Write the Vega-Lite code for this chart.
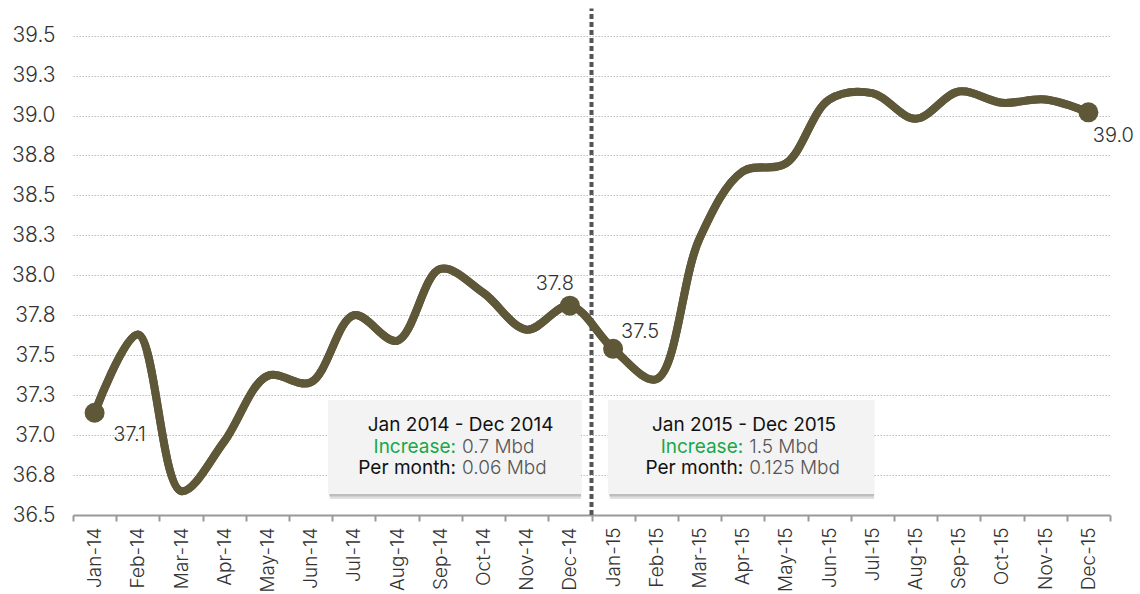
{
  "$schema": "https://vega.github.io/schema/vega-lite/v6.json",
  "width": 1037,
  "height": 515,
  "autosize": {"type": "none"},
  "padding": {"left": 73, "top": 0, "right": 30, "bottom": 79},
  "background": "white",
  "config": {
    "view": {"stroke": null},
    "font": "Inter"
  },
  "datasets": {
    "months": [
      {"m": "Jan-14", "i": 0.5, "v": 37.14},
      {"m": "Feb-14", "i": 1.5, "v": 37.63},
      {"m": "Mar-14", "i": 2.5, "v": 36.65},
      {"m": "Apr-14", "i": 3.5, "v": 36.96},
      {"m": "May-14", "i": 4.5, "v": 37.37},
      {"m": "Jun-14", "i": 5.5, "v": 37.33},
      {"m": "Jul-14", "i": 6.5, "v": 37.75},
      {"m": "Aug-14", "i": 7.5, "v": 37.59},
      {"m": "Sep-14", "i": 8.5, "v": 38.04},
      {"m": "Oct-14", "i": 9.5, "v": 37.89},
      {"m": "Nov-14", "i": 10.5, "v": 37.66},
      {"m": "Dec-14", "i": 11.5, "v": 37.81},
      {"m": "Jan-15", "i": 12.5, "v": 37.54},
      {"m": "Feb-15", "i": 13.5, "v": 37.35},
      {"m": "Mar-15", "i": 14.5, "v": 38.23},
      {"m": "Apr-15", "i": 15.5, "v": 38.65},
      {"m": "May-15", "i": 16.5, "v": 38.7},
      {"m": "Jun-15", "i": 17.5, "v": 39.1},
      {"m": "Jul-15", "i": 18.5, "v": 39.14},
      {"m": "Aug-15", "i": 19.5, "v": 38.98},
      {"m": "Sep-15", "i": 20.5, "v": 39.15},
      {"m": "Oct-15", "i": 21.5, "v": 39.08},
      {"m": "Nov-15", "i": 22.5, "v": 39.1},
      {"m": "Dec-15", "i": 23.5, "v": 39.02}
    ],
    "boxes": [
      {"x0": 5.9, "x1": 11.76, "y0": 36.631, "y1": 37.22},
      {"x0": 12.38, "x1": 18.54, "y0": 36.631, "y1": 37.22}
    ],
    "titles": [
      {"x": 8.97, "y": 37.063, "t": "Jan 2014 - Dec 2014"},
      {"x": 15.53, "y": 37.063, "t": "Jan 2015 - Dec 2015"}
    ],
    "notes": [
      {"x": 8.935, "y": 36.926, "kind": "inc", "label": "Increase:", "val": "0.7 Mbd"},
      {"x": 15.58, "y": 36.926, "kind": "inc", "label": "Increase:", "val": "1.5 Mbd"},
      {"x": 8.935, "y": 36.794, "kind": "pm", "label": "Per month:", "val": "0.06 Mbd"},
      {"x": 15.58, "y": 36.794, "kind": "pm", "label": "Per month:", "val": "0.125 Mbd"}
    ],
    "divider": [{"x": 12, "y0": 36.5, "y1": 39.67}]
  },
  "layer": [
    {
      "data": {"name": "months"},
      "mark": {"type": "line", "interpolate": "catmull-rom", "color": "#5E5838", "strokeWidth": 8, "strokeCap": "round", "strokeJoin": "round"},
      "encoding": {
        "x": {
          "field": "i",
          "type": "quantitative",
          "scale": {"domain": [0, 24], "nice": false, "zero": false},
          "axis": {
            "orient": "bottom",
            "values": [0.5, 1.5, 2.5, 3.5, 4.5, 5.5, 6.5, 7.5, 8.5, 9.5, 10.5, 11.5, 12.5, 13.5, 14.5, 15.5, 16.5, 17.5, 18.5, 19.5, 20.5, 21.5, 22.5, 23.5],
            "labelExpr": "['Jan-14','Feb-14','Mar-14','Apr-14','May-14','Jun-14','Jul-14','Aug-14','Sep-14','Oct-14','Nov-14','Dec-14','Jan-15','Feb-15','Mar-15','Apr-15','May-15','Jun-15','Jul-15','Aug-15','Sep-15','Oct-15','Nov-15','Dec-15'][floor(datum.value)]",
            "labelAngle": -90,
            "labelFontSize": 19,
            "labelFontWeight": 300,
            "labelColor": "#333333",
            "labelPadding": 12,
            "ticks": false,
            "domain": true,
            "domainColor": "#999999",
            "domainWidth": 2,
            "grid": false,
            "title": null
          }
        },
        "y": {
          "field": "v",
          "type": "quantitative",
          "scale": {"domain": [36.5, 39.723], "nice": false, "zero": false},
          "axis": {
            "values": [36.5, 36.75, 37, 37.25, 37.5, 37.75, 38, 38.25, 38.5, 38.75, 39, 39.25, 39.5],
            "format": ".1f",
            "grid": true,
            "gridColor": "#BBBBBB",
            "gridDash": [1.5, 1.5],
            "gridWidth": 1,
            "domain": false,
            "ticks": false,
            "labelFontSize": 21,
            "labelFontWeight": 300,
            "labelColor": "#333333",
            "labelPadding": 18,
            "title": null
          }
        }
      }
    },
    {
      "data": {"name": "boxes"},
      "mark": {"type": "rect", "fill": "#000000", "opacity": 0.12, "xOffset": 2, "yOffset": 5},
      "encoding": {
        "x": {"field": "x0", "type": "quantitative", "axis": null},
        "x2": {"field": "x1"},
        "y": {"field": "y0", "type": "quantitative", "title": null},
        "y2": {"field": "y1"}
      }
    },
    {
      "data": {"name": "boxes"},
      "mark": {"type": "rect", "fill": "#000000", "opacity": 0.15, "xOffset": 1, "yOffset": 2.5},
      "encoding": {
        "x": {"field": "x0", "type": "quantitative", "axis": null},
        "x2": {"field": "x1"},
        "y": {"field": "y0", "type": "quantitative", "title": null},
        "y2": {"field": "y1"}
      }
    },
    {
      "data": {"name": "boxes"},
      "mark": {"type": "rect", "fill": "#F3F3F3"},
      "encoding": {
        "x": {"field": "x0", "type": "quantitative", "axis": null},
        "x2": {"field": "x1"},
        "y": {"field": "y0", "type": "quantitative", "title": null},
        "y2": {"field": "y1"}
      }
    },
    {
      "data": {"name": "divider"},
      "mark": {"type": "rule", "color": "#555555", "strokeWidth": 4, "strokeDash": [5, 3]},
      "encoding": {
        "x": {
          "field": "x",
          "type": "quantitative",
          "axis": {
            "orient": "bottom",
            "values": [0, 1, 2, 3, 4, 5, 6, 7, 8, 9, 10, 11, 12, 13, 14, 15, 16, 17, 18, 19, 20, 21, 22, 23, 24],
            "labels": false,
            "ticks": true,
            "tickColor": "#999999",
            "tickWidth": 2,
            "tickSize": 6,
            "domain": false,
            "grid": false,
            "title": null
          }
        },
        "y": {"field": "y0", "type": "quantitative", "title": null},
        "y2": {"field": "y1"}
      }
    },
    {
      "data": {"name": "months"},
      "mark": {"type": "line", "interpolate": "catmull-rom", "color": "#5E5838", "strokeWidth": 8, "strokeCap": "round", "strokeJoin": "round"},
      "encoding": {
        "x": {"field": "i", "type": "quantitative", "axis": null},
        "y": {"field": "v", "type": "quantitative", "title": null}
      }
    },
    {
      "data": {"name": "months"},
      "transform": [{"filter": {"field": "m", "oneOf": ["Jan-14", "Dec-14", "Jan-15", "Dec-15"]}}],
      "mark": {"type": "circle", "color": "#5E5838", "opacity": 1, "size": 400},
      "encoding": {
        "x": {"field": "i", "type": "quantitative", "axis": null},
        "y": {"field": "v", "type": "quantitative", "title": null}
      }
    },
    {
      "data": {"name": "months"},
      "transform": [{"filter": {"field": "m", "oneOf": ["Jan-14"]}}],
      "mark": {"type": "text", "fontSize": 20, "fontWeight": 300, "color": "#333333", "align": "center", "baseline": "middle", "dx": 35, "dy": 22},
      "encoding": {
        "x": {"field": "i", "type": "quantitative", "axis": null},
        "y": {"field": "v", "type": "quantitative", "title": null},
        "text": {"field": "v", "type": "quantitative", "format": ".1f"}
      }
    },
    {
      "data": {"name": "months"},
      "transform": [{"filter": {"field": "m", "oneOf": ["Dec-14"]}}],
      "mark": {"type": "text", "fontSize": 20, "fontWeight": 300, "color": "#333333", "align": "center", "baseline": "middle", "dx": -15, "dy": -22},
      "encoding": {
        "x": {"field": "i", "type": "quantitative", "axis": null},
        "y": {"field": "v", "type": "quantitative", "title": null},
        "text": {"field": "v", "type": "quantitative", "format": ".1f"}
      }
    },
    {
      "data": {"name": "months"},
      "transform": [{"filter": {"field": "m", "oneOf": ["Jan-15"]}}],
      "mark": {"type": "text", "fontSize": 20, "fontWeight": 300, "color": "#333333", "align": "center", "baseline": "middle", "dx": 27, "dy": -17},
      "encoding": {
        "x": {"field": "i", "type": "quantitative", "axis": null},
        "y": {"field": "v", "type": "quantitative", "title": null},
        "text": {"field": "v", "type": "quantitative", "format": ".1f"}
      }
    },
    {
      "data": {"name": "months"},
      "transform": [{"filter": {"field": "m", "oneOf": ["Dec-15"]}}],
      "mark": {"type": "text", "fontSize": 20, "fontWeight": 300, "color": "#333333", "align": "center", "baseline": "middle", "dx": 25, "dy": 24},
      "encoding": {
        "x": {"field": "i", "type": "quantitative", "axis": null},
        "y": {"field": "v", "type": "quantitative", "title": null},
        "text": {"field": "v", "type": "quantitative", "format": ".1f"}
      }
    },
    {
      "data": {"name": "titles"},
      "mark": {"type": "text", "fontSize": 19, "fontWeight": 400, "color": "#111111", "align": "center", "baseline": "middle"},
      "encoding": {
        "x": {"field": "x", "type": "quantitative", "axis": null},
        "y": {"field": "y", "type": "quantitative", "title": null},
        "text": {"field": "t"}
      }
    },
    {
      "data": {"name": "notes"},
      "transform": [{"filter": {"field": "kind", "equal": "inc"}}],
      "mark": {"type": "text", "fontSize": 19, "fontWeight": 400, "color": "#17A84B", "align": "right", "baseline": "middle", "dx": -3},
      "encoding": {
        "x": {"field": "x", "type": "quantitative", "axis": null},
        "y": {"field": "y", "type": "quantitative", "title": null},
        "text": {"field": "label"}
      }
    },
    {
      "data": {"name": "notes"},
      "transform": [{"filter": {"field": "kind", "equal": "pm"}}],
      "mark": {"type": "text", "fontSize": 19, "fontWeight": 400, "color": "#111111", "align": "right", "baseline": "middle", "dx": -3},
      "encoding": {
        "x": {"field": "x", "type": "quantitative", "axis": null},
        "y": {"field": "y", "type": "quantitative", "title": null},
        "text": {"field": "label"}
      }
    },
    {
      "data": {"name": "notes"},
      "mark": {"type": "text", "fontSize": 19, "fontWeight": 300, "color": "#555555", "align": "left", "baseline": "middle", "dx": 3},
      "encoding": {
        "x": {"field": "x", "type": "quantitative", "axis": null},
        "y": {"field": "y", "type": "quantitative", "title": null},
        "text": {"field": "val"}
      }
    }
  ],
  "resolve": {"axis": {"x": "independent"}}
}
